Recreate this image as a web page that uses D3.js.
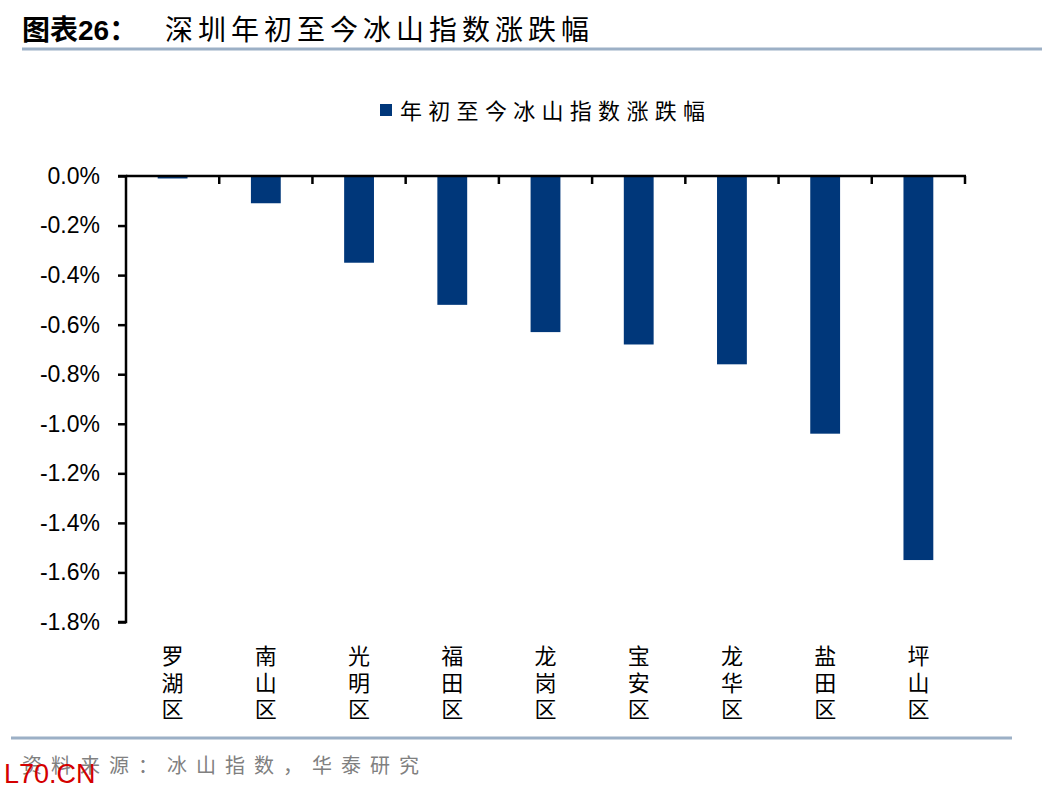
<!DOCTYPE html>
<html>
<head>
<meta charset="utf-8">
<script src="https://cdn.jsdelivr.net/npm/d3@7"></script>
<style>
  body { margin: 0; background: #fff; }
  svg { display: block; }
</style>
</head>
<body>
<script>
// 数据
const districts = ["罗湖区", "南山区", "光明区", "福田区", "龙岗区", "宝安区", "龙华区", "盐田区", "坪山区"];
const ytdChange = [-0.01, -0.11, -0.35, -0.52, -0.63, -0.68, -0.76, -1.04, -1.55];
const yTicks = [0, -0.2, -0.4, -0.6, -0.8, -1.0, -1.2, -1.4, -1.6, -1.8];
const seriesName = "年初至今冰山指数涨跌幅";

const width = 1048;
const height = 792;
const cjk = "'Noto Sans CJK SC', sans-serif";
const latin = "'Liberation Sans', Arial, sans-serif";
const barColor = "#00377a";

const svg = d3.select("body")
  .append("svg")
  .attr("width", width)
  .attr("height", height);

// 标题
const title = svg.append("text")
  .attr("x", 22)
  .attr("y", 40)
  .attr("font-family", cjk)
  .attr("font-size", "28px")
  .attr("font-weight", "bold")
  .attr("fill", "#000");
title.append("tspan").text("图表");
title.append("tspan").attr("font-family", latin).text("26");
title.append("tspan").text("：");
title.append("tspan")
  .attr("x", 165)
  .attr("font-weight", "normal")
  .attr("letter-spacing", "5px")
  .text("深圳年初至今冰山指数涨跌幅");

svg.append("line")
  .attr("x1", 22).attr("x2", 1042)
  .attr("y1", 49).attr("y2", 49)
  .attr("stroke", "#9cb0c6")
  .attr("stroke-width", 3);

// 图例
svg.append("rect")
  .attr("x", 380).attr("y", 104)
  .attr("width", 12).attr("height", 12)
  .attr("fill", barColor);
svg.append("text")
  .attr("x", 400)
  .attr("y", 119)
  .attr("font-family", cjk)
  .attr("font-size", "22px")
  .attr("letter-spacing", "6.3px")
  .text(seriesName);

// 比例尺
const x = d3.scaleBand()
  .domain(districts)
  .range([126, 965])
  .paddingInner(0.68)
  .paddingOuter(0.34);

const y = d3.scaleLinear()
  .domain([-1.8, 0])
  .range([622, 176]);

// 柱子
svg.selectAll("rect.bar")
  .data(districts)
  .enter()
  .append("rect")
  .attr("class", "bar")
  .attr("x", (d) => x(d))
  .attr("y", y(0))
  .attr("width", x.bandwidth())
  .attr("height", (d, i) => y(ytdChange[i]) - y(0))
  .attr("fill", barColor);

// Y 轴
const yAxis = d3.axisLeft(y)
  .tickValues(yTicks)
  .tickSize(8)
  .tickPadding(18)
  .tickFormat((d) => (d < 0 ? "-" : "") + Math.abs(d).toFixed(1) + "%");

const gy = svg.append("g")
  .attr("transform", "translate(126,0)")
  .call(yAxis);
gy.select(".domain").attr("stroke", "#000").attr("stroke-width", 2.5)
  .attr("d", "M-8,622H0V176H-8");
gy.selectAll(".tick line").attr("stroke", "#000").attr("stroke-width", 2.5);
gy.selectAll(".tick text")
  .attr("font-family", latin)
  .attr("font-size", "23px")
  .attr("fill", "#000");

// X 轴（零线）
const xEdges = districts.map((d) => x(d) + x.bandwidth() / 2 + x.step() / 2);
const gx = svg.append("g");
gx.append("line")
  .attr("x1", 126).attr("x2", 966)
  .attr("y1", y(0)).attr("y2", y(0))
  .attr("stroke", "#000").attr("stroke-width", 2.5);
gx.selectAll("line.tick")
  .data(xEdges)
  .enter()
  .append("line")
  .attr("class", "tick")
  .attr("x1", (d) => d).attr("x2", (d) => d)
  .attr("y1", y(0)).attr("y2", y(0) + 8)
  .attr("stroke", "#000").attr("stroke-width", 2.5);

// 分类标签（竖排）
svg.append("g")
  .selectAll("text")
  .data(districts)
  .enter()
  .append("text")
  .attr("x", (d) => x(d) + x.bandwidth() / 2)
  .attr("y", 645)
  .attr("writing-mode", "vertical-rl")
  .attr("font-family", cjk)
  .attr("font-size", "22px")
  .attr("letter-spacing", "4.5px")
  .attr("fill", "#000")
  .text((d) => d);

// 底部
svg.append("line")
  .attr("x1", 11).attr("x2", 1012)
  .attr("y1", 738).attr("y2", 738)
  .attr("stroke", "#9cb0c6")
  .attr("stroke-width", 3);

svg.append("text")
  .attr("x", 22)
  .attr("y", 773)
  .attr("font-family", cjk)
  .attr("font-size", "20px")
  .attr("letter-spacing", "9px")
  .attr("fill", "#808080")
  .text("资料来源：冰山指数，华泰研究");

svg.append("text")
  .attr("x", 4)
  .attr("y", 783)
  .attr("font-family", latin)
  .attr("font-size", "27px")
  .attr("fill", "#d40000")
  .text("L70.CN");
</script>
</body>
</html>
